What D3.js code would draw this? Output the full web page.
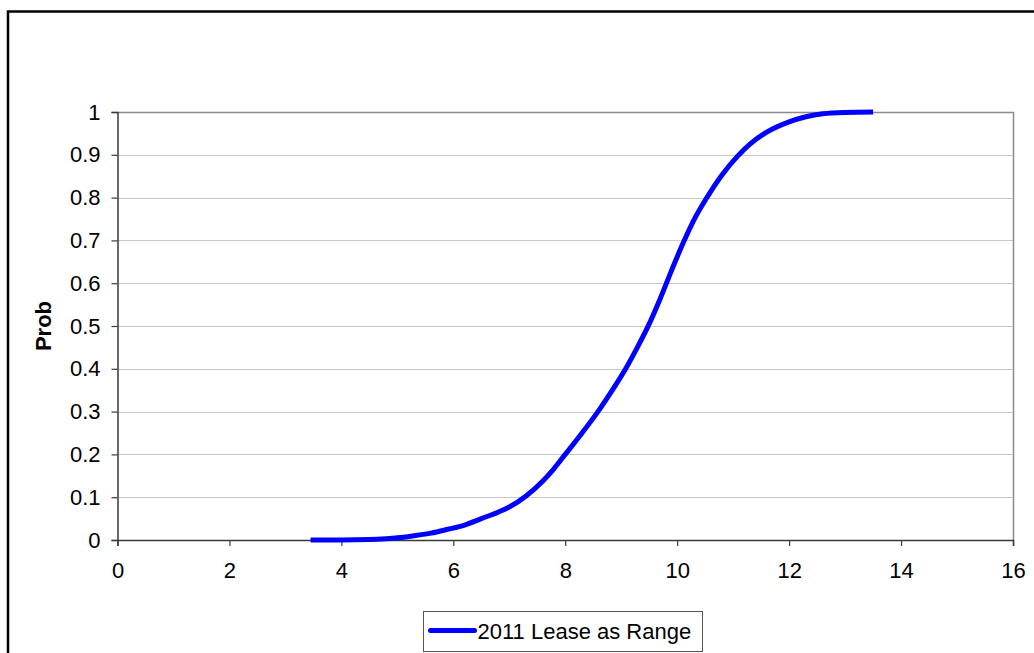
<!DOCTYPE html>
<html>
<head>
<meta charset="utf-8">
<script src="https://cdn.jsdelivr.net/npm/d3@7"></script>
<style>
  html, body { margin: 0; padding: 0; background: #fff; }
  svg { display: block; font-family: "Liberation Sans", Arial, sans-serif; }
</style>
</head>
<body>
<svg id="chart" width="1034" height="653"></svg>
<script>
// Cumulative probability of the 2011 lease value
const leaseValues = [3.45, 4.0, 4.5, 4.8, 5.0, 5.3, 5.6, 5.9, 6.2, 6.5, 6.8, 7.0, 7.3, 7.6, 7.8, 8.0, 8.3, 8.6, 8.85, 9.1, 9.3, 9.5, 9.7, 9.9, 10.1, 10.3, 10.53, 10.8, 11.08, 11.3, 11.6, 12.0, 12.3, 12.6, 13.0, 13.5];
const cumProb     = [0, 0, 0.001, 0.003, 0.005, 0.01, 0.016, 0.025, 0.035, 0.05, 0.065, 0.077, 0.103, 0.138, 0.167, 0.2, 0.25, 0.303, 0.352, 0.405, 0.453, 0.505, 0.565, 0.63, 0.692, 0.748, 0.8, 0.853, 0.897, 0.925, 0.953, 0.977, 0.989, 0.996, 0.999, 1.0];
const seriesName = "2011 Lease as Range";
const xTicks = [0, 2, 4, 6, 8, 10, 12, 14, 16];
const yTicks = [0, 0.1, 0.2, 0.3, 0.4, 0.5, 0.6, 0.7, 0.8, 0.9, 1];
const yLabel = "Prob";

const svg = d3.select("#chart");
const plot = { left: 117.5, right: 1013, top: 112, bottom: 540 };

const x = d3.scaleLinear().domain([0, 16]).range([plot.left, plot.right]);
const y = d3.scaleLinear().domain([0, 1]).range([plot.bottom, plot.top]);

// Outer chart frame (runs off the right and bottom edges)
svg.append("rect")
  .attr("x", 8).attr("y", 11.5)
  .attr("width", 1060).attr("height", 680)
  .attr("fill", "none").attr("stroke", "#000").attr("stroke-width", 2.5);

// Horizontal gridlines
svg.append("g")
  .selectAll("line")
  .data(yTicks.filter(d => d > 0 && d < 1))
  .join("line")
  .attr("x1", plot.left).attr("x2", plot.right)
  .attr("y1", d => Math.round(y(d)) + 0.5).attr("y2", d => Math.round(y(d)) + 0.5)
  .attr("stroke", "#c8c8c8").attr("stroke-width", 1);

// Plot area border (top and right)
svg.append("path")
  .attr("d", `M${plot.left},${plot.top + 0.5}H${plot.right + 0.5}V${plot.bottom}`)
  .attr("fill", "none").attr("stroke", "#8c8c8c").attr("stroke-width", 1.5);

// Axes
const xAxis = d3.axisBottom(x).tickValues(xTicks).tickFormat(d3.format("d")).tickSizeOuter(0).tickSize(6).tickPadding(16);
const yAxis = d3.axisLeft(y).tickValues(yTicks).tickFormat(d => d === 0 || d === 1 ? String(d) : d3.format(".1f")(d)).tickSizeOuter(0).tickSize(6).tickPadding(11);

const gx = svg.append("g").attr("transform", `translate(0,${plot.bottom})`).call(xAxis);
const gy = svg.append("g").attr("transform", `translate(${plot.left},0)`).call(yAxis);

[gx, gy].forEach(g => {
  g.select(".domain").attr("stroke", "#3a3a3a").attr("stroke-width", 1.5);
  g.selectAll(".tick line").attr("stroke", "#3a3a3a").attr("stroke-width", 1.2);
  g.selectAll(".tick text").attr("fill", "#000").attr("font-size", 22)
    .attr("font-family", "'Liberation Sans', Arial, sans-serif");
});

// Y axis title
svg.append("text")
  .attr("transform", `translate(51,${(plot.top + plot.bottom) / 2}) rotate(-90)`)
  .attr("text-anchor", "middle")
  .attr("font-size", 22).attr("font-weight", "bold")
  .text(yLabel);

// CDF line
const line = d3.line()
  .x((d, i) => x(leaseValues[i]))
  .y(d => y(d))
  .curve(d3.curveMonotoneX);

svg.append("path")
  .datum(cumProb)
  .attr("d", line)
  .attr("fill", "none")
  .attr("stroke", "#0000ff")
  .attr("stroke-width", 5)
  .attr("stroke-linejoin", "round");

// Legend
const legend = svg.append("g").attr("transform", "translate(423.5,611.5)");
legend.append("rect")
  .attr("width", 279).attr("height", 40)
  .attr("fill", "#fff").attr("stroke", "#555").attr("stroke-width", 1);
legend.append("line")
  .attr("x1", 7).attr("x2", 51).attr("y1", 19).attr("y2", 19)
  .attr("stroke", "#0000ff").attr("stroke-width", 5).attr("stroke-linecap", "round");
legend.append("text")
  .attr("x", 54).attr("y", 27)
  .attr("font-size", 22)
  .text(seriesName);
</script>
</body>
</html>
